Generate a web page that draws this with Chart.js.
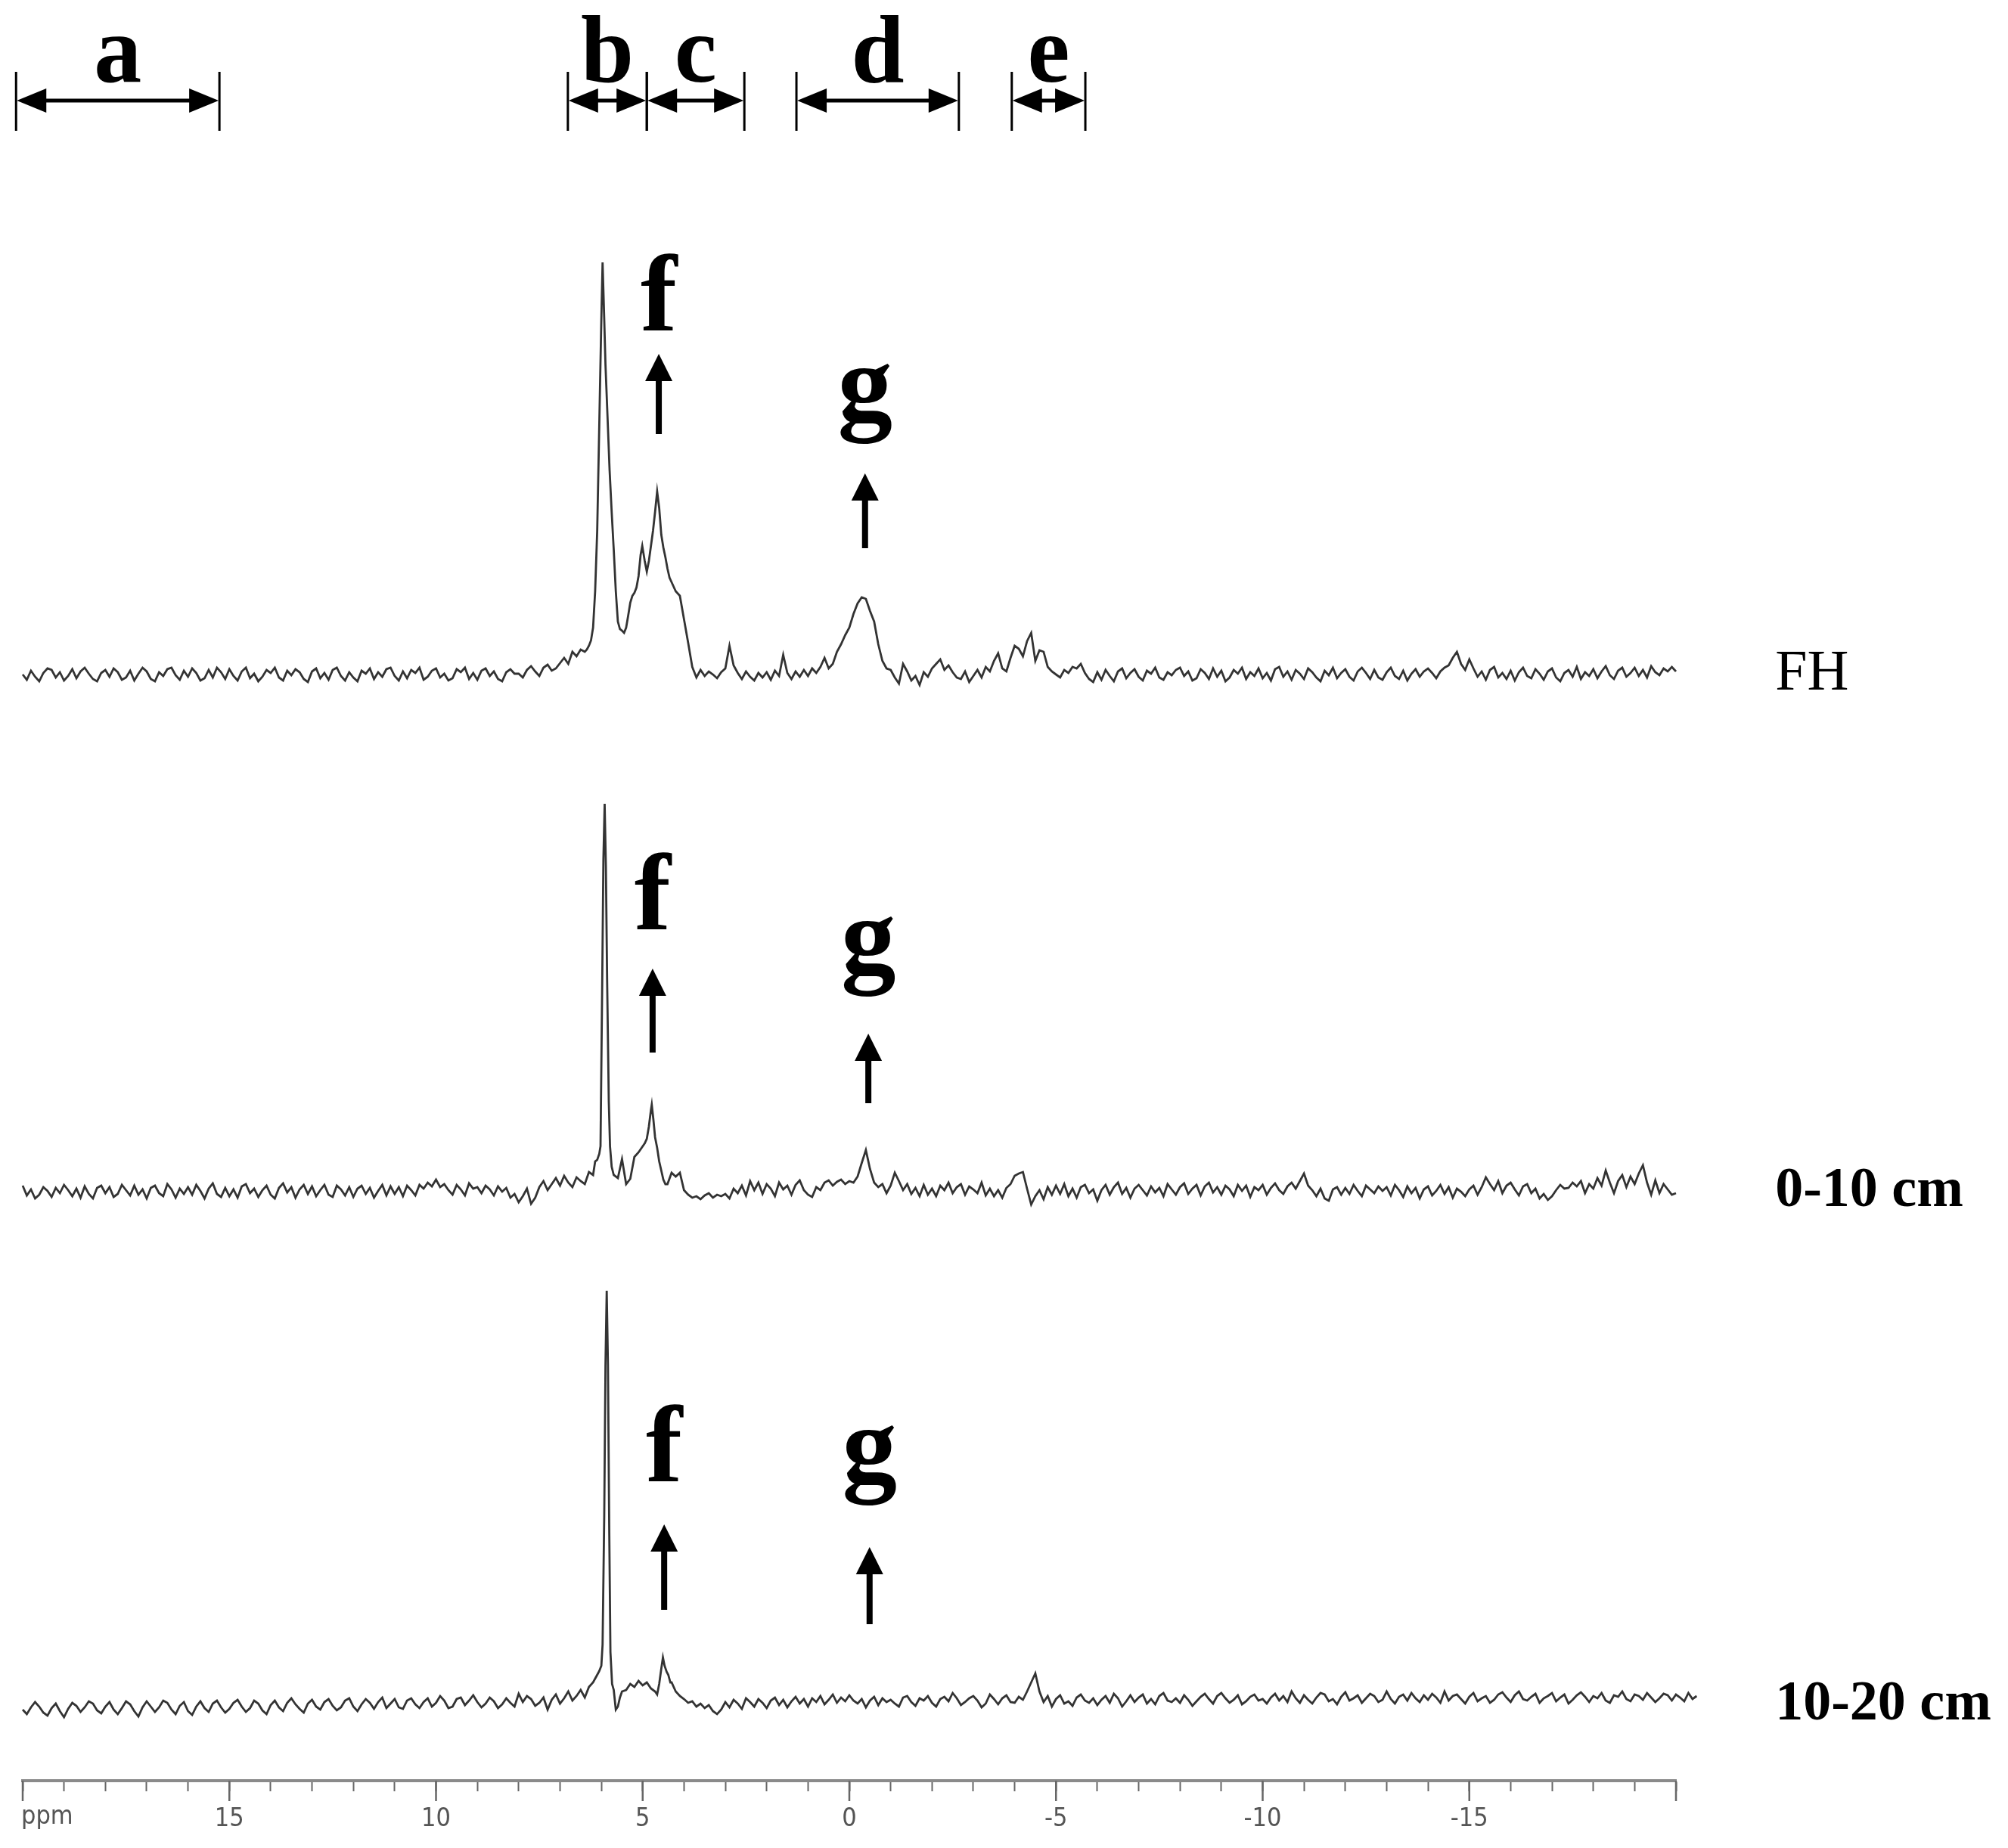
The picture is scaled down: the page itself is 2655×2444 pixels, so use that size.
<!DOCTYPE html>
<html><head><meta charset="utf-8">
<script src="https://cdn.jsdelivr.net/npm/chart.js@4.4.1/dist/chart.umd.min.js"></script>
<style>html,body{margin:0;padding:0;background:#fff;}#wrap{position:relative;width:2655px;height:2444px;background:#fff;}</style>
</head><body><div id="wrap"><canvas id="c" width="2655" height="2444"></canvas></div>
<script>
// ---------------- DATA ----------------
const sampleNames = ['FH', '0-10 cm', '10-20 cm'];
const gridStartPpm = 20;   // first point of each grid
const gridStepPpm = 0.1;   // spacing of the grids (ppm)

// FH trace, 20.0 .. -20.0 ppm (intensity, a.u.)
const fhGrid = [
 0,-7,5,-3,-9,2,8,6,-4,3,
 -8,-2,7,-5,4,9,1,-6,-9,2,
 6,-3,8,3,-7,-4,5,-8,1,9,
 4,-6,-9,3,-2,7,9,-1,-7,5,
 -3,8,2,-8,-5,6,-4,9,3,-6,
 7,-2,-8,4,9,-5,1,-9,-3,6,
 2,9,-4,-8,5,-1,7,3,-6,-10,
 4,8,-5,2,-7,6,9,-2,-8,3,
 -4,-9,5,1,8,-6,3,-3,7,9,
 -2,-8,4,-5,6,2,9,-7,-3,5,
 8,-4,1,-8,-5,7,3,9,-6,2,
 -7,5,8,-2,4,-6,-9,3,7,1,
 1,-4,6,11,4,-2,9,13,5,8,
 15,22,14,30,24,33,30,36,60,150,
 470,410,270,165,70,58,62,95,108,130,
 165,136,170,215,220,168,140,122,110,104,
 73,42,10,-4,6,-2,4,0,-5,3,
 8,38,12,2,-6,4,-3,-8,2,-4,
 3,-7,5,-2,26,2,-6,4,-3,6,
 -2,8,2,10,22,8,14,30,40,52,
 62,80,94,102,100,84,70,40,18,8,
 6,-4,-12,14,4,-8,-2,-14,3,-3,
 8,14,20,6,12,3,-4,-6,4,-10,
 -2,6,-4,10,4,18,28,8,4,22,
 38,34,24,44,55,18,32,30,10,4,
 0,-4,6,2,10,8,14,2,-6,-10,
 3,-7,6,-2,-9,4,8,-5,2,7,
 -3,-8,5,1,9,-4,-7,3,-1,6,
 9,-2,4,-8,-5,7,2,-6,8,-3,
 5,-9,-4,6,1,9,-6,3,-2,8,
 -5,2,-8,7,10,-3,4,-7,6,1,
 -6,8,3,-4,-9,5,-1,9,-5,2,
 7,-3,-8,4,9,2,-6,6,-4,-7,
 3,9,-2,-6,5,-8,1,7,-3,4,
 8,2,-5,4,9,12,22,30,14,6,
 20,8,-3,4,-7,6,10,-4,2,-6,
 5,-8,3,9,-2,-5,7,1,-7,4,
 8,-4,-9,2,6,-3,10,-6,3,-2,
 7,-5,4,11,-1,-6,5,9,-3,2,
 9,-2,6,-4,11,3,-1,8,4,10,
 4
];
// finely sampled peak regions [ppm, intensity]
const fhPeaks = [
 [6.4,30],[6.35,33],[6.3,38],[6.25,45],[6.2,62],[6.15,110],[6.1,190],[6.05,330],[6.0,470],[5.97,545],
 [5.93,470],[5.9,410],[5.85,340],[5.8,270],[5.75,215],[5.7,165],[5.65,110],[5.6,70],[5.55,60],[5.5,58],
 [5.45,55],[5.4,62],[5.35,78],[5.3,95],[5.25,104],[5.2,108],[5.15,115],[5.1,130],[5.05,158],[5.01,170],
 [4.95,150],[4.9,136],[4.85,150],[4.8,170],[4.75,190],[4.7,215],[4.65,242],[4.6,220],[4.55,185],[4.5,168],
 [4.45,155],[4.4,140],[4.35,128],[4.3,122]
];

// 0-10 cm trace, 20.0 .. -20.0 ppm
const cm0to10Grid = [
 8,-5,3,-9,-4,6,1,-7,5,-2,
 9,2,-6,4,-8,7,-3,-9,5,8,
 -2,6,-7,-3,9,2,-5,8,-4,3,
 -9,5,8,-2,-6,10,3,-8,4,-3,
 6,-4,9,1,-9,4,11,-3,-7,5,
 -6,3,-8,7,10,-2,4,-7,2,8,
 -4,-9,5,11,-1,6,-8,3,9,-3,
 7,-6,2,9,-4,-7,8,3,-5,6,
 -7,4,8,-3,5,-8,1,9,-5,7,
 -3,6,-6,8,2,-5,9,4,12,7,
 16,6,10,2,-4,9,3,-5,11,4,
 6,-2,8,3,-5,7,0,5,-8,-3,
 -14,-6,4,-16,-8,6,14,2,10,18,
 8,21,12,6,19,14,10,26,22,43,
 60,500,100,22,18,43,10,17,46,52,
 59,67,88,113,67,29,10,25,20,25,
 2,-4,-8,-6,-10,-5,-2,-8,-4,-6,
 -3,-9,4,-2,8,-5,14,2,12,-3,
 10,4,-6,12,3,8,-4,9,15,2,
 -4,-7,6,2,12,15,8,13,16,10,
 14,12,20,38,55,30,12,6,10,-2,
 8,25,14,2,10,-3,5,-6,9,-4,
 4,-6,8,2,12,-2,6,10,-4,7,
 3,-2,12,-5,4,-6,2,-8,5,10,
 21,24,26,4,-17,-6,2,-10,6,-4,
 8,-3,10,-6,4,-8,6,9,-2,3,
 -12,2,9,-4,6,12,-3,5,-8,4,
 9,2,-5,7,-1,5,-6,10,3,-4,
 6,11,-3,4,9,-5,7,12,-1,6,
 -4,8,3,-6,9,1,8,-7,6,2,
 9,-4,5,11,2,-3,7,12,4,14,
 24,8,2,-6,4,-9,-12,3,6,-4,
 5,-3,9,1,-6,8,3,-2,7,1,
 6,-5,9,2,-7,7,-2,5,-9,3,
 7,-5,1,9,-3,6,-8,4,0,-6,
 3,8,-4,6,19,10,2,14,-2,8,
 12,3,-5,7,10,-2,4,-9,-3,-11,
 -6,2,9,4,5,12,7,14,-2,10,
 4,18,8,28,12,-2,14,22,6,20,
 10,24,35,12,-4,15,-2,10,3,-4,
 -2
];
const cm0to10Peaks = [
 [6.15,40],[6.1,42],[6.05,50],[6.02,60],[5.98,270],[5.95,440],[5.92,513],[5.89,430],[5.86,280],[5.82,120],
 [5.79,60],[5.75,33],[5.7,22],
 [5.05,56],[5.0,60],[4.95,64],[4.9,70],[4.85,86],[4.8,108],[4.78,115],[4.74,95],[4.7,72],[4.65,58],
 [4.6,40],[4.55,28],[4.5,16],[4.45,10]
];

// 10-20 cm trace, 20.0 .. -20.5 ppm
const cm10to20Grid = [
 -6,-12,-3,4,-2,-10,-14,-4,2,-8,
 -16,-5,3,-1,-9,-3,5,2,-7,-11,
 -2,4,-6,-12,-4,5,1,-8,-15,-3,
 5,-2,-9,-3,6,3,-6,-12,-1,4,
 -8,-13,-2,5,-4,-9,2,6,-3,-10,
 -5,3,7,-2,-9,-4,6,2,-7,-12,
 0,6,-3,-8,3,9,1,-5,-10,2,
 7,-2,-6,4,8,-1,-7,-3,6,9,
 -2,-8,1,8,3,-5,4,10,-4,2,
 8,-3,-5,6,9,1,-4,4,9,-2,
 3,12,6,-4,-2,8,10,0,6,13,
 4,-3,2,10,5,-4,1,9,3,-2,
 15,4,12,8,-1,3,10,-6,7,14,
 2,9,18,6,12,20,10,24,30,40,
 52,450,240,20,-2,18,20,28,24,32,
 26,30,22,18,14,28,44,30,18,12,
 8,3,5,-2,2,-4,0,-8,-12,-6,
 4,-3,7,2,-5,9,4,-2,8,3,
 -4,6,10,0,7,-3,5,11,2,8,
 -2,9,4,12,1,7,14,3,10,5,
 13,6,2,8,-3,6,11,0,9,4,
 7,2,-2,10,12,4,-1,9,6,12,
 3,-2,8,11,5,16,9,0,4,9,
 12,6,-3,2,14,8,1,9,13,4,
 3,11,7,18,30,42,18,4,12,-2,
 8,13,2,5,-1,10,14,6,3,9,
 0,7,12,3,15,9,-2,5,13,4,
 10,14,2,8,1,12,16,6,4,9,
 3,13,7,-1,5,11,15,8,2,12,
 16,9,3,7,13,1,5,11,14,6,
 8,2,10,15,6,12,4,18,9,3,
 13,7,2,10,16,14,5,8,1,11,
 17,6,9,13,3,9,15,12,4,7,
 18,8,2,11,14,6,16,9,4,13,
 7,15,10,3,18,6,12,14,8,2,
 11,16,5,9,12,3,7,14,17,10,
 4,13,18,8,6,11,15,3,9,12,
 16,5,10,14,2,7,13,17,11,4,
 12,9,16,6,3,13,11,18,8,5,
 14,12,7,16,10,4,9,15,13,6,
 14,10,5,16,8,12
];
const cm10to20Peaks = [
 [6.1,40],[6.05,45],[6.0,52],[5.97,80],[5.93,250],[5.9,450],[5.87,548],[5.84,450],[5.81,240],[5.78,70],
 [5.74,28],[5.7,20],[5.65,-6],[5.6,-2],[5.55,10],[5.5,18],
 [4.65,14],[4.6,28],[4.55,48],[4.51,63],[4.47,52],[4.42,44],[4.38,40],[4.33,30]
];

const baselineLevels = [1463, 779, 100];  // vertical offset of each stacked trace (a.u.)

// x-axis tick labels
const xTickValues = [20, 15, 10, 5, 0, -5, -10, -15];
const xTickLabels = ['ppm', '15', '10', '5', '0', '-5', '-10', '-15'];
const majorTickValues = [20, 15, 10, 5, 0, -5, -10, -15, -20];

// spectral regions marked at the top
const regionNames = ['a', 'b', 'c', 'd', 'e'];
const regionStartPpm = [20.16, 6.81, 4.90, 1.28, -3.93];
const regionEndPpm = [15.24, 4.90, 2.54, -2.65, -5.71];

// f / g peak markers for each trace
const markerFPpm = [4.61, 4.76, 4.48];
const markerGPpm = [-0.38, -0.46, -0.49];

// --------------- BUILD -----------------
function buildTrace(grid, peaks, level) {
  const segs = [];
  let cur = [peaks[0]];
  for (let i = 1; i < peaks.length; i++) {
    if (Math.abs(peaks[i][0] - peaks[i - 1][0]) > 0.15) { segs.push(cur); cur = []; }
    cur.push(peaks[i]);
  }
  segs.push(cur);
  const ranges = segs.map(s => [Math.min(...s.map(p => p[0])), Math.max(...s.map(p => p[0]))]);
  const pts = [];
  grid.forEach((v, i) => {
    const x = +(gridStartPpm - gridStepPpm * i).toFixed(3);
    if (!ranges.some(r => x >= r[0] - 1e-9 && x <= r[1] + 1e-9)) pts.push([x, v]);
  });
  peaks.forEach(p => pts.push(p));
  pts.sort((a, b) => b[0] - a[0]);
  return pts.map(p => ({ x: p[0], y: p[1] + level }));
}

const traces = [
  buildTrace(fhGrid, fhPeaks, baselineLevels[0]),
  buildTrace(cm0to10Grid, cm0to10Peaks, baselineLevels[1]),
  buildTrace(cm10to20Grid, cm10to20Peaks, baselineLevels[2])
];

// annotation layout (in y-scale units)
const layoutCfg = {
  bracketTop: 2260, bracketBottom: 2182, bracketArrow: 2222, bracketLetter: 2247,
  fArrow: [[1887, 1781], [1074, 963], [339, 226]],
  gArrow: [[1729, 1630], [988, 896], [309, 207]],
  fLetter: [1918, 1126, 396],
  gLetter: [1800, 1069, 396],
  labelPpm: -22.4
};

const serif = "'Liberation Serif', 'Times New Roman', 'DejaVu Serif', serif";
const tickFontFamily = "'Liberation Sans Narrow', 'DejaVu Sans Condensed', 'Liberation Sans', sans-serif";
const tickFontSize = 34, tickLen = 14, tickPad = 17;

const annotPlugin = {
  id: 'annot',
  afterDraw(chart) {
    const { ctx } = chart;
    const x = chart.scales.x, y = chart.scales.y;
    ctx.save();
    // long major ticks
    ctx.strokeStyle = '#666';
    ctx.lineWidth = 2.5;
    majorTickValues.forEach(v => {
      const px = x.getPixelForValue(v);
      ctx.beginPath(); ctx.moveTo(px, y.bottom); ctx.lineTo(px, y.bottom + 27); ctx.stroke();
    });
    // first tick label ("ppm") starts at its tick
    ctx.fillStyle = '#555';
    ctx.font = tickFontSize + "px " + tickFontFamily;
    ctx.textAlign = 'left'; ctx.textBaseline = 'top';
    ctx.fillText(xTickLabels[0], x.getPixelForValue(xTickValues[0]) - 2, y.bottom + tickLen + tickPad);
    // region brackets
    ctx.fillStyle = '#000'; ctx.strokeStyle = '#000';
    const yt = y.getPixelForValue(layoutCfg.bracketTop), yb = y.getPixelForValue(layoutCfg.bracketBottom);
    const ya = y.getPixelForValue(layoutCfg.bracketArrow), yl = y.getPixelForValue(layoutCfg.bracketLetter);
    const head = 40, hh = 16;
    regionNames.forEach((n, i) => {
      const x1 = x.getPixelForValue(regionStartPpm[i]), x2 = x.getPixelForValue(regionEndPpm[i]);
      ctx.lineWidth = 3;
      [x1, x2].forEach(px => { ctx.beginPath(); ctx.moveTo(px, yt); ctx.lineTo(px, yb); ctx.stroke(); });
      const hl = Math.min(head, (x2 - x1) / 2 - 2);
      ctx.lineWidth = 5;
      ctx.beginPath(); ctx.moveTo(x1 + hl * 0.5, ya); ctx.lineTo(x2 - hl * 0.5, ya); ctx.stroke();
      ctx.beginPath(); ctx.moveTo(x1 + 1, ya); ctx.lineTo(x1 + hl, ya - hh); ctx.lineTo(x1 + hl, ya + hh); ctx.closePath(); ctx.fill();
      ctx.beginPath(); ctx.moveTo(x2 - 1, ya); ctx.lineTo(x2 - hl, ya - hh); ctx.lineTo(x2 - hl, ya + hh); ctx.closePath(); ctx.fill();
      ctx.font = "bold 126px " + serif;
      ctx.textAlign = 'center'; ctx.textBaseline = 'alphabetic';
      ctx.fillText(n, (x1 + x2) / 2, yl);
    });
    // f and g markers
    const arrow = (px, tipV, tailV) => {
      const tip = y.getPixelForValue(tipV), tail = y.getPixelForValue(tailV);
      ctx.fillRect(px - 4, tip + 30, 8, tail - tip - 30);
      ctx.beginPath(); ctx.moveTo(px, tip); ctx.lineTo(px - 18, tip + 36); ctx.lineTo(px + 18, tip + 36); ctx.closePath(); ctx.fill();
    };
    ctx.font = "bold 145px " + serif;
    ctx.textAlign = 'center'; ctx.textBaseline = 'alphabetic';
    for (let i = 0; i < 3; i++) {
      const fx = x.getPixelForValue(markerFPpm[i]), gx = x.getPixelForValue(markerGPpm[i]);
      arrow(fx, layoutCfg.fArrow[i][0], layoutCfg.fArrow[i][1]);
      arrow(gx, layoutCfg.gArrow[i][0], layoutCfg.gArrow[i][1]);
      ctx.fillText('f', fx, y.getPixelForValue(layoutCfg.fLetter[i]));
      ctx.fillText('g', gx, y.getPixelForValue(layoutCfg.gLetter[i]));
    }
    // sample labels
    ctx.textAlign = 'left'; ctx.textBaseline = 'middle';
    sampleNames.forEach((n, i) => {
      ctx.font = (i === 0 ? "normal 76px " : "bold 74px ") + serif;
      ctx.fillText(n, x.getPixelForValue(layoutCfg.labelPpm), y.getPixelForValue(baselineLevels[i]));
    });
    ctx.restore();
  }
};

new Chart(document.getElementById('c'), {
  type: 'line',
  data: {
    datasets: traces.map((t, i) => ({
      label: sampleNames[i], data: t,
      borderColor: '#333', borderWidth: 2.8, pointRadius: 0, tension: 0, fill: false, clip: false
    }))
  },
  options: {
    responsive: false, animation: false, devicePixelRatio: 1,
    layout: { padding: { left: 30, right: 439, top: 200, bottom: 0 } },
    plugins: { legend: { display: false }, tooltip: { enabled: false } },
    scales: {
      x: {
        type: 'linear', reverse: true, min: -20, max: 20,
        afterFit: s => { s.height = 89; },
        border: { display: true, color: '#8a8a8a', width: 4 },
        grid: { display: true, drawOnChartArea: false, drawTicks: true, tickLength: tickLen, tickColor: '#666', tickWidth: 2 },
        ticks: {
          stepSize: 1, autoSkip: false, maxRotation: 0, padding: tickPad, color: '#555',
          font: { family: tickFontFamily, size: tickFontSize },
          callback: v => { const k = xTickValues.indexOf(Math.round(v)); return k > 0 ? xTickLabels[k] : ''; }
        }
      },
      y: { display: false, min: 0, max: 2155 }
    }
  },
  plugins: [annotPlugin]
});
</script></body></html>
